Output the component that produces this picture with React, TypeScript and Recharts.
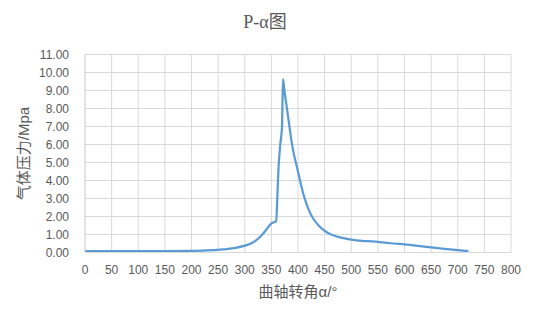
import React from "react";
import { LineChart, Line, XAxis, YAxis, CartesianGrid, Label } from "recharts";

const angles = [
  0, 50, 100, 150, 200, 220, 240, 260, 280, 300, 310, 320, 330, 340, 345, 350, 355, 359,
  361.7, 363.6, 366.7, 370, 371.8, 374.3, 380.5, 385.6, 390.6, 398, 405, 410, 415, 420, 425,
  430, 440, 450, 460, 475, 490, 500, 520, 540, 560, 580, 600, 625, 650, 675, 700, 720,
];
const pressures = [
  0.08, 0.08, 0.08, 0.08, 0.09, 0.1, 0.13, 0.17, 0.24, 0.38, 0.48, 0.65, 0.9, 1.25, 1.45, 1.62, 1.68, 1.75,
  3.48, 4.78, 6.0, 7.0, 9.63, 9.04, 7.74, 6.63, 5.7, 4.75, 3.85, 3.25, 2.78, 2.38, 2.07,
  1.82, 1.46, 1.21, 1.03, 0.87, 0.77, 0.72, 0.65, 0.62, 0.56, 0.5, 0.45, 0.37, 0.28, 0.2, 0.13, 0.08,
];
const xTicks = [0, 50, 100, 150, 200, 250, 300, 350, 400, 450, 500, 550, 600, 650, 700, 750, 800];
const yTicks = [0, 1, 2, 3, 4, 5, 6, 7, 8, 9, 10, 11];

const title = "P-α图";
const xTitle = "曲轴转角α/°";
const yTitle = "气体压力/Mpa";

const data = angles.map((a, i) => ({ a, p: pressures[i] }));

const tickStyle = { fill: "#595959", fontSize: 12, fontFamily: "'Liberation Sans', Arial, sans-serif" };
const cjk = "'Liberation Sans', 'Noto Sans CJK SC', sans-serif";

export default function App() {
  return (
    <div style={{ position: "absolute", left: 0, top: 0, width: 538, height: 317, background: "#fff" }}>
      <div
        style={{
          position: "absolute",
          left: 0,
          width: 530,
          top: 10,
          textAlign: "center",
          fontSize: 18,
          lineHeight: "24px",
          color: "#595959",
          fontFamily: "'Liberation Serif', 'Noto Sans CJK SC', serif",
        }}
      >
        {title}
      </div>
      <LineChart
        width={538}
        height={317}
        data={data}
        margin={{ top: 54.5, right: 27, bottom: 4.5, left: 0 }}
      >
        <CartesianGrid stroke="#d9d9d9" strokeWidth={1} />
        <XAxis
          type="number"
          dataKey="a"
          domain={[0, 800]}
          ticks={xTicks}
          interval={0}
          axisLine={{ stroke: "#d9d9d9" }}
          tickLine={false}
          tick={tickStyle}
          tickMargin={7}
          height={60}
        >
          <Label
            value={xTitle}
            position="insideBottom"
            offset={16}
            style={{ fill: "#595959", fontSize: 15, fontFamily: cjk }}
          />
        </XAxis>
        <YAxis
          type="number"
          domain={[0, 11]}
          ticks={yTicks}
          interval={0}
          width={85}
          axisLine={{ stroke: "#d9d9d9" }}
          tickLine={false}
          tick={tickStyle}
          tickMargin={10}
          tickFormatter={(v: number) => v.toFixed(2)}
        >
          <Label
            value={yTitle}
            angle={-90}
            position="insideLeft"
            offset={24}
            style={{ fill: "#595959", fontSize: 15, fontFamily: cjk, textAnchor: "middle" }}
          />
        </YAxis>
        <Line
          type="monotone"
          dataKey="p"
          stroke="#5b9bd5"
          strokeWidth={2.25}
          dot={false}
          isAnimationActive={false}
        />
      </LineChart>
    </div>
  );
}
